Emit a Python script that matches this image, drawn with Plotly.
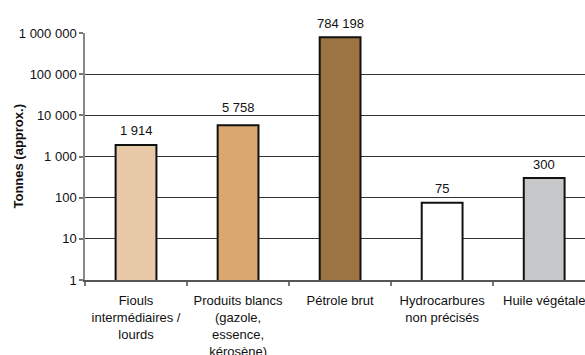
import math
import plotly.graph_objects as go

# Oil / hydrocarbon spill volumes by product type (log scale)
categories = [
    "Fiouls<br>intermédiaires /<br>lourds",
    "Produits blancs<br>(gazole,<br>essence,<br>kérosène)",
    "Pétrole brut",
    "Hydrocarbures<br>non précisés",
    "Huile végétale",
]
tonnes = [1914, 5758, 784198, 75, 300]
bar_colors = ["#E8C9A8", "#DBA770", "#9C7441", "#FFFFFF", "#C6C7C9"]

y_tickvals = [1, 10, 100, 1000, 10000, 100000, 1000000]
y_ticktext = ["1", "10", "100", "1 000", "10 000", "100 000", "1 000 000"]
grid_vals = [10, 100, 1000, 10000, 100000]
y_title = "Tonnes (approx.)"

font_family = "Liberation Sans, Arial, sans-serif"
fsize = 13

fig = go.Figure()
fig.add_trace(go.Bar(
    x=categories,
    y=tonnes,
    width=0.4,
    marker=dict(color=bar_colors, line=dict(color="#111111", width=2)),
    showlegend=False,
    hoverinfo="skip",
))
# invisible trace on the overlay axis so it carries the horizontal grid
fig.add_trace(go.Scatter(x=[categories[0]], y=[1], yaxis="y2", mode="markers",
                         marker=dict(opacity=0), showlegend=False, hoverinfo="skip"))

# value labels above each bar; the second one is lifted clear of the 10 000 gridline
for i, (cat, val) in enumerate(zip(categories, tonnes)):
    fig.add_annotation(
        x=cat, y=math.log10(val), xref="x", yref="y",
        text=f"{val:,}".replace(",", " "),
        showarrow=False, yanchor="middle", yshift=18 if i == 1 else 14,
        font=dict(family=font_family, size=fsize, color="#111111"),
    )

# rotated y-axis title, set close to the tick labels
fig.add_annotation(
    x=-0.134, y=0.5, xref="paper", yref="paper",
    text=f"<b>{y_title}</b>", textangle=-90,
    showarrow=False, xanchor="center", yanchor="middle",
    font=dict(family=font_family, size=fsize, color="#111111"),
)

fig.update_layout(
    width=585,
    height=355,
    margin=dict(l=85, r=0, t=33, b=75, autoexpand=False),
    paper_bgcolor="white",
    plot_bgcolor="white",
    font=dict(family=font_family, size=fsize, color="#111111"),
    xaxis=dict(
        type="category",
        range=[-0.5, 4.4],
        automargin=False,
        showline=True,
        linecolor="#555555",
        linewidth=1.5,
        ticks="outside",
        tickson="boundaries",
        ticklen=4,
        tickcolor="#777777",
        tickwidth=1.5,
        ticklabelstandoff=8,
        showgrid=False,
        tickfont=dict(family=font_family, size=fsize, color="#111111"),
    ),
    yaxis=dict(
        type="log",
        range=[0, 6],
        automargin=False,
        tickvals=y_tickvals,
        ticktext=y_ticktext,
        showgrid=False,
        zeroline=False,
        showline=True,
        linecolor="#888888",
        linewidth=1.5,
        ticks="outside",
        ticklen=4,
        tickcolor="#777777",
        tickwidth=1.5,
        tickfont=dict(family=font_family, size=fsize, color="#111111"),
    ),
    yaxis2=dict(
        type="log",
        overlaying="y",
        matches="y",
        range=[0, 6],
        automargin=False,
        tickvals=grid_vals,
        showticklabels=False,
        ticks="",
        showgrid=True,
        gridcolor="#333333",
        gridwidth=1,
        zeroline=False,
        showline=False,
    ),
)

fig.write_html("out.html")
